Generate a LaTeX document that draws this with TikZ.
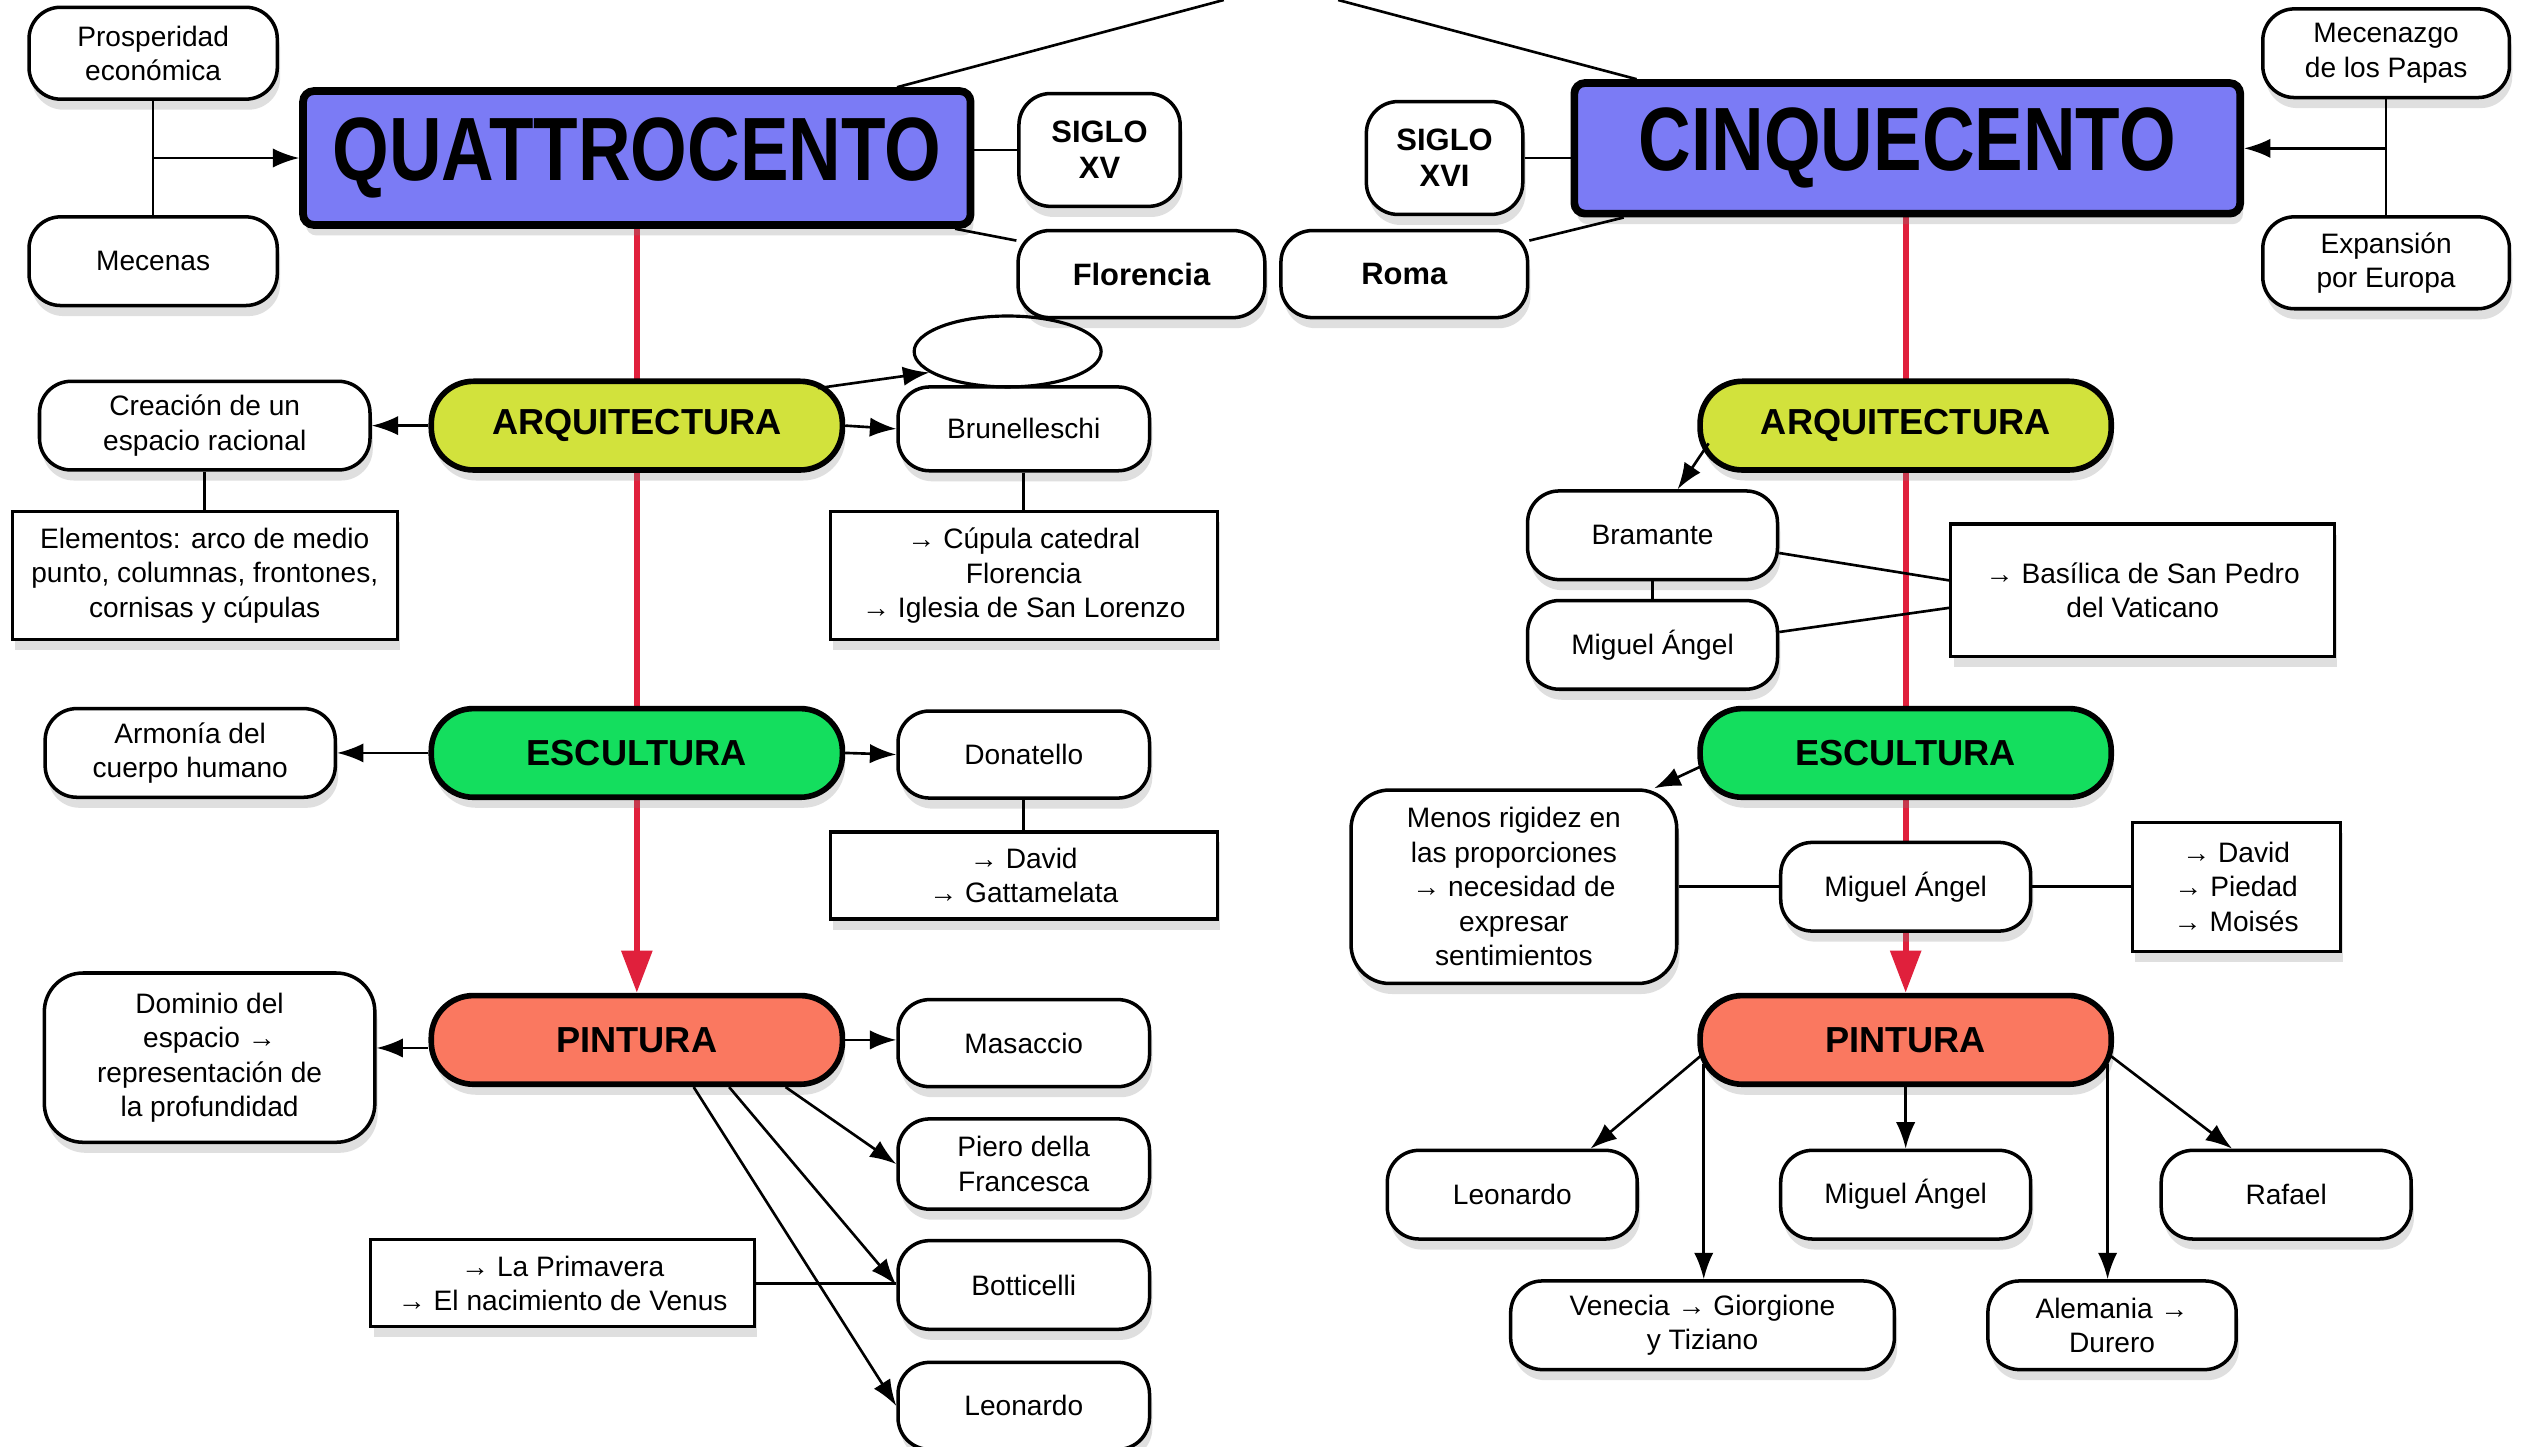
\documentclass[tikz,border=0pt]{standalone}
\usepackage{fontspec}
\setmainfont{Liberation Sans}
\usetikzlibrary{shapes.geometric,arrows.meta,shadows,backgrounds,calc}
\newcommand\PX{0.016122cm}
\definecolor{qblue}{HTML}{7B7BF5}
\definecolor{arqc}{HTML}{D2E23C}
\definecolor{escc}{HTML}{14DE5E}
\definecolor{pinc}{HTML}{FA7860}
\definecolor{redl}{HTML}{E0203C}
\begin{document}
\begin{tikzpicture}[x=0.016122cm,y=-0.016122cm,
 shad/.style={drop shadow={shadow xshift=0.8pt,shadow yshift=-3pt,opacity=0.25}},
 wbox/.style={draw,fill=white,line width=1pt,rounded corners=9pt,align=center,inner sep=1pt,font=\fontsize{8}{9.8}\selectfont,shad},
 wb/.style={wbox,font=\fontsize{8.8}{10.2}\selectfont\bfseries},
 rbox/.style={draw,fill=white,line width=0.9pt,align=center,inner sep=1pt,font=\fontsize{8}{9.8}\selectfont,shad},
 pill/.style={draw,line width=1.6pt,rounded corners=12pt,minimum width=255*\PX,minimum height=55*\PX,font=\fontsize{10.3}{12}\selectfont\bfseries,shad},
 titlebox/.style={draw,line width=2.2pt,rounded corners=3pt,fill=qblue,shad,inner sep=0pt,font=\fontsize{25.6}{28}\selectfont\bfseries},
 con/.style={line width=0.75pt},
 arr/.style={con,-{Latex[length=7.5pt,width=5.5pt]}},
 redln/.style={draw=redl,line width=1.8pt,-{Triangle[length=12pt,width=8.5pt]}},
]
\useasboundingbox (0,0) rectangle (1568,897.5);

% ---- top level
\node[titlebox,minimum width=414*\PX,minimum height=83*\PX] (q) at (395,98) {\scalebox{0.81}[1]{QUATTROCENTO}};
\node[titlebox,minimum width=413*\PX,minimum height=81*\PX] (c) at (1183,92) {\scalebox{0.81}[1]{CINQUECENTO}};
\coordinate (topL) at (759,0);
\coordinate (topR) at (830,0);

\node[wbox,minimum width=154*\PX,minimum height=57*\PX] (pros) at (95,33) {Prosperidad\\económica};
\node[wbox,minimum width=154*\PX,minimum height=55*\PX] (mec) at (95,162) {Mecenas};
\node[wb,minimum width=100*\PX,minimum height=70*\PX] (s15) at (682,93) {SIGLO\\XV};
\node[wb,minimum width=153*\PX,minimum height=54*\PX] (flo) at (708,170) {Florencia};
\node[wb,minimum width=153*\PX,minimum height=54*\PX] (roma) at (871,170) {Roma};
\node[wb,minimum width=97*\PX,minimum height=70*\PX] (s16) at (896,98) {SIGLO\\XVI};
\node[wbox,minimum width=153*\PX,minimum height=55*\PX] (mp) at (1480,33) {Mecenazgo\\de los Papas};
\node[wbox,minimum width=153*\PX,minimum height=57*\PX] (ee) at (1480,163) {Expansión\\por Europa};

% ---- Quattrocento branch
\node[pill,fill=arqc] (arqL) at (395,264) {ARQUITECTURA};
\node[pill,fill=escc] (escL) at (395,467) {ESCULTURA};
\node[pill,fill=pinc] (pinL) at (395,645) {PINTURA};

\node[wbox,minimum width=205*\PX,minimum height=55*\PX] (cre) at (127,264) {Creación de un\\espacio racional};
\node[wbox,minimum width=156*\PX,minimum height=52*\PX] (bru) at (635,266) {Brunelleschi};
\node[draw,ellipse,line width=0.9pt,minimum width=116*\PX,minimum height=44*\PX,inner sep=0pt] (ell) at (625,218) {};
\node[rbox,minimum width=239*\PX,minimum height=79*\PX] (ele) at (127,357) {Elementos: arco de medio\\punto, columnas, frontones,\\cornisas y cúpulas};
\node[rbox,minimum width=240*\PX,minimum height=79*\PX] (cup) at (635,357) {→ Cúpula catedral\\Florencia\\→ Iglesia de San Lorenzo};
\node[wbox,minimum width=180*\PX,minimum height=55*\PX] (arm) at (118,467) {Armonía del\\cuerpo humano};
\node[wbox,minimum width=156*\PX,minimum height=54*\PX] (don) at (635,468) {Donatello};
\node[rbox,minimum width=240*\PX,minimum height=54*\PX] (dav) at (635,543) {→ David\\→ Gattamelata};
\node[wbox,minimum width=205*\PX,minimum height=105*\PX,rounded corners=11pt] (dom) at (130,656) {Dominio del\\espacio →\\representación de\\la profundidad};
\node[wbox,minimum width=156*\PX,minimum height=54*\PX] (mas) at (635,647) {Masaccio};
\node[wbox,minimum width=156*\PX,minimum height=56*\PX] (pie) at (635,722) {Piero della\\Francesca};
\node[wbox,minimum width=156*\PX,minimum height=55*\PX] (bot) at (635,797) {Botticelli};
\node[wbox,minimum width=156*\PX,minimum height=54*\PX] (leoL) at (635,872) {Leonardo};
\node[rbox,minimum width=238*\PX,minimum height=54*\PX] (pri) at (349,796) {→ La Primavera\\→ El nacimiento de Venus};

% ---- Cinquecento branch
\node[pill,fill=arqc] (arqR) at (1182,264) {ARQUITECTURA};
\node[pill,fill=escc] (escR) at (1182,467) {ESCULTURA};
\node[pill,fill=pinc] (pinR) at (1182,645) {PINTURA};

\node[wbox,minimum width=155*\PX,minimum height=55*\PX] (bra) at (1025,332) {Bramante};
\node[wbox,minimum width=155*\PX,minimum height=55*\PX] (ma1) at (1025,400) {Miguel Ángel};
\node[rbox,minimum width=238*\PX,minimum height=82*\PX] (bas) at (1329,366) {→ Basílica de San Pedro\\del Vaticano};
\node[wbox,minimum width=202*\PX,minimum height=120*\PX,rounded corners=11pt] (men) at (939,550) {Menos rigidez en\\las proporciones\\→ necesidad de\\expresar\\sentimientos};
\node[wbox,minimum width=155*\PX,minimum height=55*\PX] (ma2) at (1182,550) {Miguel Ángel};
\node[rbox,minimum width=129*\PX,minimum height=80*\PX] (dpm) at (1387,550) {→ David\\→ Piedad\\→ Moisés};
\node[wbox,minimum width=155*\PX,minimum height=55*\PX] (leoR) at (938,741) {Leonardo};
\node[wbox,minimum width=155*\PX,minimum height=55*\PX] (ma3) at (1182,741) {Miguel Ángel};
\node[wbox,minimum width=155*\PX,minimum height=55*\PX] (raf) at (1418,741) {Rafael};
\node[wbox,minimum width=238*\PX,minimum height=55*\PX] (ven) at (1056,822) {Venecia → Giorgione\\y Tiziano};
\node[wbox,minimum width=154*\PX,minimum height=55*\PX] (ale) at (1310,822) {Alemania →\\Durero};

% ---- white page and red spines (behind)
\begin{scope}[on background layer]
\fill[white] (0,0) rectangle (1568,897.5);
\draw[redln] (q.south) -- (pinL.north);
\draw[redln] (c.south -| pinR.north) -- (pinR.north);
\end{scope}

% ---- connectors: top
\draw[con] (topL) -- ([xshift=-48*\PX]q.north east);
\draw[con] (topR) -- ([xshift=41*\PX]c.north west);
\draw[con] (pros.south) -- (mec.north);
\draw[arr] (pros.south |- q.west) -- (q.west);
\draw[con] (s15.west) -- (s15.west -| q.east);
\draw[con] (flo.165) -- ([xshift=-12*\PX]q.south east);
\draw[con] (roma.15) -- ([xshift=33*\PX]c.south west);
\draw[con] (s16.east) -- (s16.east -| c.west);
\draw[con] (mp.south) -- (ee.north);
\draw[arr] (mp.south |- c.east) -- (c.east);

% ---- connectors: Quattrocento
\draw[arr] (arqL.west) -- (cre.east);
\draw[arr] (arqL.east) -- (bru.west);
\draw[arr] ([xshift=-17*\PX,yshift=-6*\PX]arqL.north east) -- (ell.195);
\draw[con] (cre.south) -- (ele.north);
\draw[con] (bru.south) -- (cup.north);
\draw[arr] (escL.west) -- (arm.east);
\draw[arr] (escL.east) -- (don.west);
\draw[con] (don.south) -- (dav.north);
\draw[arr] ([yshift=-5*\PX]pinL.west) -- ([yshift=-5*\PX]pinL.west -| dom.east);
\draw[arr] (pinL.east) -- (pinL.east -| mas.west);
\draw[arr] ([xshift=-37*\PX]pinL.south east) -- (pie.west);
\draw[arr] ([xshift=-72*\PX]pinL.south east) -- (bot.west);
\draw[arr] ([xshift=-94*\PX]pinL.south east) -- (leoL.west);
\draw[con] (pri.east) -- (pri.east -| bot.west);

% ---- connectors: Cinquecento
\draw[arr] ([xshift=7*\PX,yshift=-11*\PX]arqR.west) -- ([xshift=-63*\PX]bra.north east);
\draw[con] (bra.south) -- (ma1.north);
\draw[con] ([yshift=-11*\PX]bra.east) -- ([yshift=6*\PX]bas.west);
\draw[con] ([yshift=8*\PX]ma1.east) -- ([yshift=-11*\PX]bas.west);
\draw[arr] ([xshift=3*\PX,yshift=-8*\PX]escR.west) -- ([xshift=-15*\PX]men.north east);
\draw[con] (men.east) -- (ma2.west);
\draw[con] (ma2.east) -- (dpm.west);
\draw[arr] ([xshift=2*\PX,yshift=-10*\PX]pinR.west) -- ([xshift=-30*\PX]leoR.north east);
\draw[arr] ([xshift=4*\PX,yshift=-15*\PX]pinR.west) coordinate (vs) -- (vs |- ven.north);
\draw[arr] (pinR.south) -- (ma3.north);
\draw[arr] ([xshift=-4*\PX,yshift=-15*\PX]pinR.east) coordinate (as) -- (as |- ale.north);
\draw[arr] ([xshift=-2*\PX,yshift=-10*\PX]pinR.east) -- ([xshift=45*\PX]raf.north west);
\end{tikzpicture}
\end{document}
